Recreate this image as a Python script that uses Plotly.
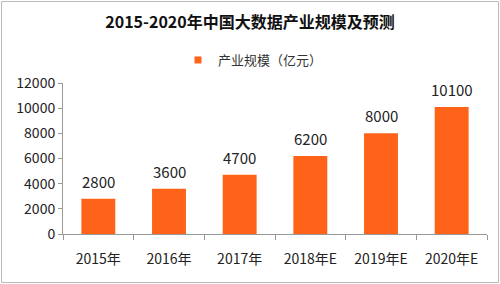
import plotly.graph_objects as go

categories = ["2015年", "2016年", "2017年", "2018年E", "2019年E", "2020年E"]
values = [2800, 3600, 4700, 6200, 8000, 10100]
y_ticks = [0, 2000, 4000, 6000, 8000, 10000, 12000]
series_name = "产业规模（亿元）"
title = "2015-2020年中国大数据产业规模及预测"

font_family = "Noto Sans CJK SC, Microsoft YaHei, sans-serif"
bar_color = "#FF6319"
L, R, T, B = 63, 13, 83, 50
W, H = 500, 284
pw, ph = W - L - R, H - T - B

fig = go.Figure()
fig.add_trace(go.Bar(
    x=categories, y=values, name=series_name, showlegend=False,
    marker=dict(color=bar_color, line=dict(width=0)),
    width=0.48,
))
# legend entry with a small square marker
fig.add_trace(go.Scatter(
    x=[None], y=[None], mode="markers", name=series_name,
    marker=dict(symbol="square", size=7, color=bar_color),
))

annotations = [
    dict(x=c, y=v, xref="x", yref="y", text=str(v), showarrow=False,
         yanchor="bottom", yshift=5,
         font=dict(size=15, color="#222222", family=font_family))
    for c, v in zip(categories, values)
]

fig.update_layout(
    width=W, height=H,
    margin=dict(l=L, r=R, t=T, b=B),
    paper_bgcolor="white", plot_bgcolor="white",
    font=dict(family=font_family, color="#222222"),
    title=dict(text="<b>" + title + "</b>", x=0.5, xanchor="center",
               y=1 - 22 / H, yanchor="middle",
               font=dict(size=16, color="#111111", family=font_family)),
    showlegend=True,
    legend=dict(orientation="h", x=0.5 - 22 / pw, xanchor="center",
                y=1 + 23 / ph, yanchor="middle",
                font=dict(size=13, color="#333333", family=font_family),
                itemwidth=30),
    annotations=annotations,
    xaxis=dict(type="category", showgrid=False, showline=True,
               linecolor="#999999", linewidth=1,
               ticks="outside", tickson="boundaries", ticklen=5,
               tickcolor="#999999", ticklabelstandoff=12,
               tickfont=dict(size=14, color="#222222")),
    yaxis=dict(range=[0, 12000], tickvals=y_ticks,
               ticktext=[str(t) for t in y_ticks], showgrid=False,
               showline=True, linecolor="#999999", linewidth=1,
               ticks="outside", ticklen=4, tickcolor="#999999",
               tickfont=dict(size=14, color="#222222"), zeroline=False),
    shapes=[dict(type="rect", xref="paper", yref="paper",
                 x0=-(L - 1.5) / pw, x1=1 + (R - 1.5) / pw,
                 y0=-(B - 1.5) / ph, y1=1 + (T - 1.5) / ph,
                 line=dict(color="#BBBBBB", width=1))],
)

fig.write_html("out.html")
